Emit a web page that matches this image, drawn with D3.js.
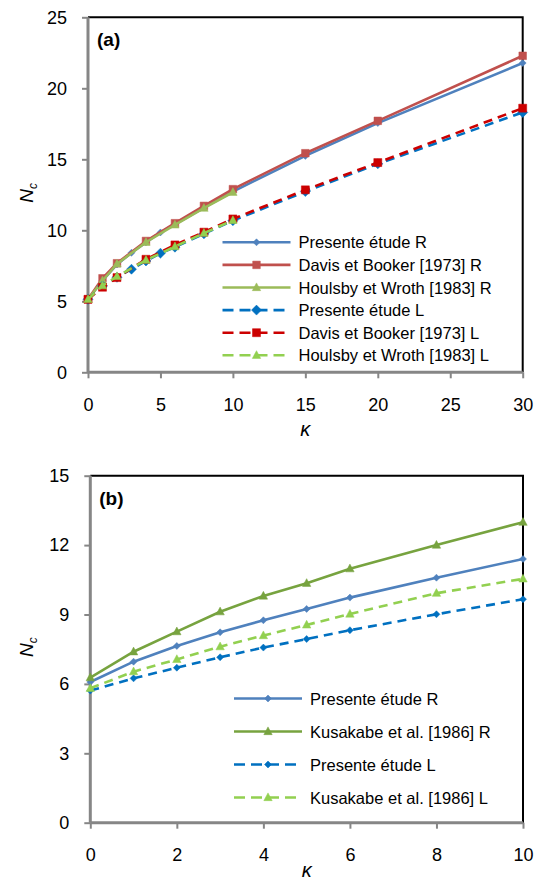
<!DOCTYPE html>
<html><head><meta charset="utf-8">
<script src="https://cdn.jsdelivr.net/npm/d3@7"></script>
<style>body{margin:0;background:#fff}svg{display:block}text{font-family:"Liberation Sans",Arial,sans-serif;fill:#000}</style>
</head><body><svg id="c" width="540" height="880"></svg>
<script>
// ---- Panel (a) data ----
const kA_presente = [0,1,2,3,4,5,6,8,10,15,20,30];
const presenteR_a = [5.14,6.45,7.6,8.42,9.15,9.85,10.42,11.6,12.73,15.24,17.55,21.78];
const presenteL_a = [5.14,6.08,6.69,7.26,7.84,8.39,8.81,9.75,10.68,12.73,14.68,18.3];
const kA_davis = [0,1,2,4,6,8,10,15,20,30];
const davisR = [5.14,6.62,7.68,9.25,10.5,11.72,12.9,15.43,17.71,22.29];
const davisL = [5.14,5.99,6.67,7.96,8.97,9.87,10.8,12.85,14.77,18.6];
const kA_houlsby = [0,1,2,4,6,8,10];
const houlsbyR = [5.14,6.45,7.63,9.16,10.38,11.56,12.68];
const houlsbyL = [5.14,6.1,6.75,7.9,8.85,9.8,10.7];
const xTicksA = [0,5,10,15,20,25,30];
const yTicksA = [0,5,10,15,20,25];
const namesA = ["Presente étude R","Davis et Booker [1973] R","Houlsby et Wroth [1983] R","Presente étude L","Davis et Booker [1973] L","Houlsby et Wroth [1983] L"];

// ---- Panel (b) data ----
const kB = [0,1,2,3,4,5,6,8,10];
const presenteR_b = [6.08,6.96,7.64,8.23,8.75,9.24,9.73,10.59,11.4];
const kusakabeR = [6.27,7.39,8.26,9.12,9.8,10.35,10.98,12.0,12.99];
const presenteL_b = [5.71,6.24,6.7,7.15,7.57,7.94,8.32,9.01,9.66];
const kusakabeL = [5.81,6.53,7.06,7.61,8.09,8.55,9.02,9.92,10.54];
const xTicksB = [0,2,4,6,8,10];
const yTicksB = [0,3,6,9,12,15];
const namesB = ["Presente étude R","Kusakabe et al. [1986]  R","Presente étude L","Kusakabe et al. [1986] L"];

const svg = d3.select("#c");

function markerPath(type, s){
  if(type==="diamond") return `M0,${-s}L${s},0L0,${s}L${-s},0Z`;
  if(type==="square") return `M${-s},${-s}H${s}V${s}H${-s}Z`;
  if(type==="triangle") return `M0,${-s*1.1}L${s},${s*0.75}L${-s},${s*0.75}Z`;
}

function panel(cfg){
  const x = d3.scaleLinear().domain(cfg.xDom).range(cfg.xr);
  const y = d3.scaleLinear().domain(cfg.yDom).range(cfg.yr);
  const g = svg.append("g");
  g.append("path").attr("d",`M${cfg.xr[0]},${cfg.yr[1]}H${cfg.xr[1]}V${cfg.yr[0]}`)
    .attr("fill","none").attr("stroke","#000").attr("stroke-width",2);
  const ya = g.append("g").attr("transform",`translate(${cfg.xr[0]},0)`)
    .call(d3.axisLeft(y).tickValues(cfg.yTicks).tickSize(6).tickPadding(15).tickFormat(d3.format("d")));
  ya.select(".domain").attr("stroke","#868686").attr("stroke-width",3).attr("d",`M0,${cfg.yr[0]}V${cfg.yr[1]}`);
  ya.selectAll(".tick line").attr("stroke","#868686").attr("stroke-width",2);
  ya.selectAll(".tick text").attr("font-size",18).attr("font-family","Liberation Sans, Arial, sans-serif").attr("fill","#000");
  const xa = g.append("g").attr("transform",`translate(0,${cfg.yr[0]})`)
    .call(d3.axisBottom(x).tickValues(cfg.xTicks).tickSize(6).tickPadding(20).tickFormat(d3.format("d")));
  xa.select(".domain").attr("stroke","#868686").attr("stroke-width",3).attr("d",`M${cfg.xr[0]},0H${cfg.xr[1]}`);
  xa.selectAll(".tick line").attr("stroke","#868686").attr("stroke-width",2);
  xa.selectAll(".tick text").attr("font-size",18).attr("font-family","Liberation Sans, Arial, sans-serif").attr("fill","#000");
  g.append("text").attr("x",cfg.xr[0]+9).attr("y",cfg.yr[1]+29).attr("font-weight","bold").attr("font-size",19).text(cfg.label);
  const xm = (cfg.xr[0]+cfg.xr[1])/2;
  g.append("text").attr("x",xm).attr("y",cfg.yr[0]+cfg.kOff).attr("text-anchor","middle")
    .attr("font-family","DejaVu Serif, serif").attr("font-style","italic").attr("font-size",20).text("κ");
  const ym = (cfg.yr[0]+cfg.yr[1])/2 - 2;
  const yt = g.append("text").attr("transform",`translate(33,${ym}) rotate(-90)`).attr("text-anchor","middle")
    .attr("font-style","italic").attr("font-size",19);
  yt.append("tspan").text("N");
  yt.append("tspan").attr("font-size",12).attr("dy",4).text("c");
  const line = d3.line().x(d=>x(d[0])).y(d=>y(d[1]));
  cfg.series.forEach(s=>{
    const pts = s.k.map((k,i)=>[k,s.v[i]]);
    g.append("path").datum(pts).attr("d",line).attr("fill","none").attr("stroke",s.color)
      .attr("stroke-width",2.6).attr("stroke-dasharray",s.dash?"9,6":null);
    g.selectAll(null).data(pts).enter().append("path")
      .attr("transform",d=>`translate(${x(d[0])},${y(d[1])})`)
      .attr("d",markerPath(s.marker,s.ms)).attr("fill",s.color).attr("stroke",s.color).attr("stroke-width",0.5);
  });
  cfg.series.forEach((s,i)=>{
    const ly = cfg.legY + i*cfg.legDy;
    const lx = cfg.legX;
    g.append("line").attr("x1",lx).attr("x2",lx+68).attr("y1",ly).attr("y2",ly)
      .attr("stroke",s.color).attr("stroke-width",2.6).attr("stroke-dasharray",s.dash?"11,6":null);
    g.append("path").attr("transform",`translate(${lx+34},${ly})`).attr("d",markerPath(s.marker,s.lms||s.ms))
      .attr("fill",s.color).attr("stroke",s.color).attr("stroke-width",0.5);
    g.append("text").attr("x",lx+76).attr("y",ly+6).attr("font-size",16.5).text(s.name);
  });
}

panel({
  xDom:[0,30], yDom:[0,25], xr:[88,522.7], yr:[372.3,17.3],
  xTicks:xTicksA, yTicks:yTicksA, label:"(a)", kOff:64,
  legX:222.5, legY:242.3, legDy:22.6,
  series:[
    {k:kA_presente, v:presenteR_a, color:"#4F81BD", marker:"diamond", ms:3.5, dash:false, name:namesA[0]},
    {k:kA_davis, v:davisR, color:"#C0504D", marker:"square", ms:3.8, dash:false, name:namesA[1]},
    {k:kA_houlsby, v:houlsbyR, color:"#9BBB59", marker:"triangle", ms:4.2, dash:false, name:namesA[2]},
    {k:kA_presente, v:presenteL_a, color:"#0070C0", marker:"diamond", ms:5, dash:true, name:namesA[3]},
    {k:kA_davis, v:davisL, color:"#CC0000", marker:"square", ms:4, dash:true, name:namesA[4]},
    {k:kA_houlsby, v:houlsbyL, color:"#92D050", marker:"triangle", ms:4.2, dash:true, name:namesA[5]}
  ]
});

panel({
  xDom:[0,10], yDom:[0,15], xr:[90.3,523], yr:[822.7,475.7],
  xTicks:xTicksB, yTicks:yTicksB, label:"(b)", kOff:54,
  legX:234, legY:698.5, legDy:33,
  series:[
    {k:kB, v:presenteR_b, color:"#4F81BD", marker:"diamond", ms:3.5, dash:false, name:namesB[0]},
    {k:kB, v:kusakabeR, color:"#77A33F", marker:"triangle", ms:4.2, dash:false, name:namesB[1]},
    {k:kB, v:presenteL_b, color:"#0070C0", marker:"diamond", ms:3.5, dash:true, name:namesB[2]},
    {k:kB, v:kusakabeL, color:"#92D050", marker:"triangle", ms:4.2, dash:true, name:namesB[3]}
  ]
});
</script></body></html>
